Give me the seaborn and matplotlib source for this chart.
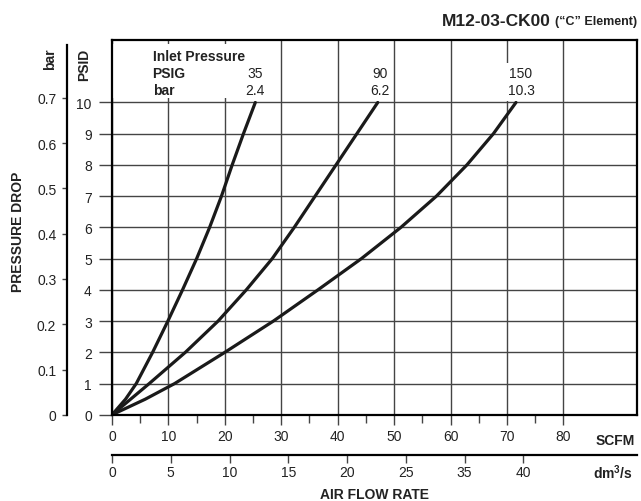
import numpy as np
import pandas as pd
import matplotlib
matplotlib.use("Agg")
import matplotlib.pyplot as plt
from matplotlib.patches import Rectangle
import seaborn as sns

# ---------------- data ----------------
psid_levels = [0, 0.5, 1, 2, 3, 4, 5, 6, 7, 8, 9, 10]
scfm_35 = [0, 2.4, 4.3, 7.2, 9.9, 12.5, 15.0, 17.3, 19.4, 21.3, 23.3, 25.4]
scfm_90 = [0, 3.3, 6.6, 13.0, 18.8, 23.8, 28.4, 32.3, 36.0, 39.7, 43.4, 47.1]
scfm_150 = [0, 5.9, 11.1, 20.0, 28.6, 36.5, 44.2, 51.2, 57.5, 62.9, 67.6, 71.6]
inlet_psig = ["35", "90", "150"]
inlet_bar = ["2.4", "6.2", "10.3"]

scfm_ticks = [0, 10, 20, 30, 40, 50, 60, 70, 80]
scfm_minor = [5, 15, 25, 35, 45, 55, 65, 75]
psid_ticks = [0, 1, 2, 3, 4, 5, 6, 7, 8, 9, 10]
bar_ticks = [0, 0.1, 0.2, 0.3, 0.4, 0.5, 0.6, 0.7]
bar_labels = ["0", "0.1", "0.2", "0.3", "0.4", "0.5", "0.6", "0.7"]
dm3_ticks = [0, 5, 10, 15, 20, 25, 30, 35]
dm3_labels = ["0", "5", "10", "15", "20", "25", "35", "40"]

PSI_PER_BAR = 14.5
DM3_PER_SCFM = 0.48

df = pd.DataFrame({
    "scfm": scfm_35 + scfm_90 + scfm_150,
    "psid": psid_levels * 3,
    "inlet": [inlet_psig[0]] * len(scfm_35) + [inlet_psig[1]] * len(scfm_90)
             + [inlet_psig[2]] * len(scfm_150),
})

# ---------------- style ----------------
sns.set_style("white")
plt.rcParams["font.family"] = ["Liberation Sans", "DejaVu Sans"]
plt.rcParams["mathtext.fontset"] = "custom"
plt.rcParams["mathtext.rm"] = "Liberation Sans"
plt.rcParams["mathtext.bf"] = "Liberation Sans:bold"

W_PX, H_PX = 641, 502
fig = plt.figure(figsize=(W_PX / 100, H_PX / 100), dpi=100)

def fx(px):
    return px / W_PX

def fy(py):
    return 1 - py / H_PX

ax_left, ax_right, ax_top, ax_bottom = 112, 636.7, 41, 415.8
L = fx(ax_left)
B = fy(ax_bottom)
W = (ax_right - ax_left) / W_PX
H = (ax_bottom - ax_top) / H_PX

ax = fig.add_axes([L, B, W, H])
grid_col = "#444444"
txt_col = "#222222"

sns.lineplot(data=df, x="scfm", y="psid", hue="inlet", palette=["#1a1a1a"] * 3,
             estimator=None, sort=False, legend=False, lw=2.3, ax=ax,
             solid_capstyle="round", solid_joinstyle="round", zorder=3)

ax.set_xlim(0, 93)
ax.set_ylim(0, 12)
ax.set_xticks(scfm_ticks)
ax.set_xticks(scfm_minor, minor=True)
ax.set_yticks(psid_ticks)
ax.set_xlabel("")
ax.set_ylabel("")
ax.grid(True, which="major", color=grid_col, lw=1.0)
ax.set_axisbelow(True)
ax.tick_params(axis="x", which="major", bottom=True, length=7.5, width=1.0,
               color=grid_col, pad=3, labelsize=10, labelcolor=txt_col)
ax.tick_params(axis="x", which="minor", bottom=True, length=6, width=1.0,
               color=grid_col)
ax.tick_params(axis="y", which="major", left=True, length=9.5, width=1.0,
               color=grid_col, pad=5, labelsize=10, labelcolor=txt_col)
for s in ax.spines.values():
    s.set_visible(True)
    s.set_linewidth(1.6)
    s.set_color("black")
    s.set_zorder(4)

# white background behind the inlet pressure key
ax.add_patch(Rectangle((0.0, 0.845), 0.311, 0.144, transform=ax.transAxes,
                       fc="white", ec="none", zorder=1.5))

ax.text(7.2, 11.35, "Inlet Pressure", fontsize=10, weight="bold",
        color=txt_col, va="baseline", ha="left", zorder=5)
ax.text(7.2, 10.81, "PSIG", fontsize=10, weight="bold",
        color=txt_col, va="baseline", ha="left", zorder=5)
ax.text(7.2, 10.26, "bar", fontsize=10, weight="bold",
        color=txt_col, va="baseline", ha="left", zorder=5)

curve_tops = [scfm_35[-1], scfm_90[-1], scfm_150[-1]]
label_dx = [0, 2, 5]  # pixel nudges
for xtop, psig, barv, dx in zip(curve_tops, inlet_psig, inlet_bar, label_dx):
    bb = dict(fc="white", ec="none", pad=2.5)
    ax.annotate(psig, (xtop, 10.81), xytext=(dx * 0.72, 0),
                textcoords="offset points", ha="center", va="baseline",
                fontsize=10, color=txt_col, bbox=bb, zorder=5)
    ax.annotate(barv, (xtop, 10.26), xytext=(dx * 0.72, 0),
                textcoords="offset points", ha="center", va="baseline",
                fontsize=10, color=txt_col, bbox=bb, zorder=5)

# ---------------- bar axis (left) ----------------
axb = fig.add_axes([fx(66.5), B, 0.0001, H])
axb.set_ylim(0, 12 / PSI_PER_BAR)
axb.set_yticks(bar_ticks)
axb.set_yticklabels(bar_labels)
axb.set_xticks([])
axb.patch.set_alpha(0)
for k, s in axb.spines.items():
    s.set_visible(k == "left")
axb.spines["left"].set_linewidth(1.6)
axb.spines["left"].set_color("black")
axb.spines["left"].set_bounds(0, 11.85 / PSI_PER_BAR)
axb.tick_params(axis="y", left=True, length=3.8, width=1.0, color=grid_col,
                pad=3.5, labelsize=10, labelcolor=txt_col)

# ---------------- dm3/s axis (bottom) ----------------
axd = fig.add_axes([L, fy(456), W, 0.0001])
axd.set_xlim(0, 93 * DM3_PER_SCFM)
axd.set_xticks(dm3_ticks)
axd.set_xticklabels(dm3_labels)
axd.set_yticks([])
axd.patch.set_alpha(0)
for k, s in axd.spines.items():
    s.set_visible(k == "bottom")
axd.spines["bottom"].set_linewidth(1.6)
axd.spines["bottom"].set_color("black")
axd.tick_params(axis="x", bottom=True, length=6, width=1.0, color=grid_col,
                pad=1.5, labelsize=10, labelcolor=txt_col)

# ---------------- labels ----------------
fig.text(fx(18), fy(232), "PRESSURE DROP", rotation=90, ha="center",
         va="center", weight="bold", fontsize=10, color=txt_col)
fig.text(fx(50), fy(59), "bar", rotation=90, ha="center", va="center",
         weight="bold", fontsize=10, color=txt_col)
fig.text(fx(84), fy(64.5), "PSID", rotation=90, ha="center", va="center",
         weight="bold", fontsize=10, color=txt_col)
fig.text(fx(635), fy(441), "SCFM", ha="right", va="center", weight="bold",
         fontsize=10, color=txt_col)
fig.text(fx(633), fy(479), r"dm$^{\mathbf{3}}$/s", ha="right", va="baseline",
         weight="bold", fontsize=10, color=txt_col)
fig.text(fx(374), fy(495), "AIR FLOW RATE", ha="center", va="center",
         weight="bold", fontsize=10, color=txt_col)

sub = fig.text(fx(637), fy(25.5), "(\u201cC\u201d Element)", ha="right",
               va="baseline", weight="bold", fontsize=9, color=txt_col)
fig.canvas.draw()
bb = sub.get_window_extent()
fig.text((bb.x0 - 4) / W_PX, fy(26), "M12-03-CK00", ha="right",
         va="baseline", weight="bold", fontsize=12.5, color=txt_col)

fig.savefig("out.png", dpi=100)
